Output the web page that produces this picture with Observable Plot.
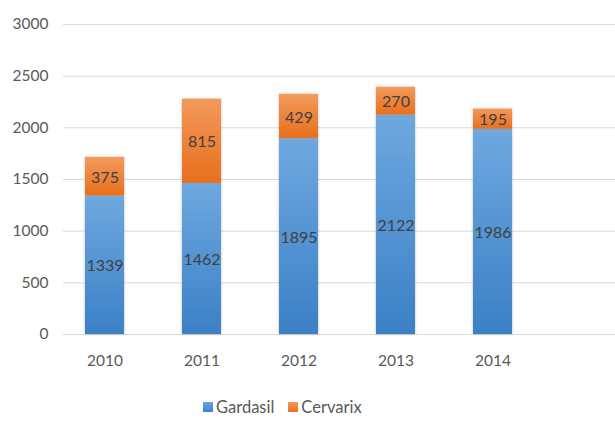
<!DOCTYPE html>
<html>
<head>
<meta charset="utf-8">
<script src="https://cdn.jsdelivr.net/npm/d3@7"></script>
<script src="https://cdn.jsdelivr.net/npm/@observablehq/plot@0.6"></script>
<style>
  body { margin: 0; background: #fff; font-family: Lato, "Open Sans", sans-serif; }
  #chart svg { display: block; }
  .legend { display: flex; align-items: center; margin-left: 203px; margin-top: 12px; font-size: 16.5px; color: #595959; }
  .legend span.sw { display: inline-block; width: 10px; height: 10px; margin-right: 3px; }
  .legend .item { display: flex; align-items: center; margin-right: 14px; }
</style>
</head>
<body>
<div id="chart"></div>
<div class="legend">
  <div class="item"><span class="sw" style="background:linear-gradient(#6aa5dd,#3d83c8)"></span>Gardasil</div>
  <div class="item"><span class="sw" style="background:linear-gradient(#f59a5e,#e8701f)"></span>Cervarix</div>
</div>
<script>
const years = ["2010", "2011", "2012", "2013", "2014"];
const series = ["Gardasil", "Cervarix"];
const gardasil = [1339, 1462, 1895, 2122, 1986];
const cervarix = [375, 815, 429, 270, 195];
const yTicks = [0, 500, 1000, 1500, 2000, 2500, 3000];

const data = [];
years.forEach((y, i) => {
  data.push({year: y, series: "Gardasil", value: gardasil[i]});
  data.push({year: y, series: "Cervarix", value: cervarix[i]});
});

const plot = Plot.plot({
  width: 615,
  height: 385,
  marginLeft: 63,
  marginRight: 0,
  marginTop: 24,
  marginBottom: 51,
  style: {fontFamily: "Lato, 'Open Sans', sans-serif", fontSize: "15px", color: "#595959", background: "#fff"},
  x: {domain: years, range: [56, 541], paddingInner: 0.6, paddingOuter: 0.3, label: null},
  y: {domain: [0, 3000], label: null},
  color: {domain: series, range: ["url(#gradBlue)", "url(#gradOrange)"]},
  marks: [
    Plot.ruleY(yTicks, {stroke: "#d9d9d9", strokeWidth: 1}),
    Plot.axisY({ticks: yTicks, tickFormat: d => String(d), tickSize: 0, tickPadding: 15, label: null, fill: "#595959", fontSize: 15.5}),
    Plot.axisX({tickSize: 0, tickPadding: 20, label: null, fill: "#595959", fontSize: 15.5}),
    Plot.barY(data, {x: "year", y: "value", fill: "series", order: series, className: "bars"}),
    Plot.text(data, Plot.stackY({x: "year", y: "value", z: "series", order: series, text: d => String(d.value), fill: "#404040", fontSize: 16, dy: 1}))
  ]
});

const svg = d3.select(plot);
const defs = svg.insert("defs", ":first-child");
const gb = defs.append("linearGradient").attr("id", "gradBlue").attr("x1", 0).attr("y1", 0).attr("x2", 0).attr("y2", 1);
gb.append("stop").attr("offset", "0%").attr("stop-color", "#6ea8df");
gb.append("stop").attr("offset", "100%").attr("stop-color", "#3b80c6");
const go = defs.append("linearGradient").attr("id", "gradOrange").attr("x1", 0).attr("y1", 0).attr("x2", 0).attr("y2", 1);
go.append("stop").attr("offset", "0%").attr("stop-color", "#f39a5c");
go.append("stop").attr("offset", "100%").attr("stop-color", "#e76f1c");
const f = defs.append("filter").attr("id", "shadow").attr("x", "-20%").attr("y", "-5%").attr("width", "140%").attr("height", "110%");
f.append("feDropShadow").attr("dx", 0).attr("dy", 0).attr("stdDeviation", 1.5).attr("flood-color", "#000").attr("flood-opacity", 0.25);
svg.select("g.bars").attr("filter", "url(#shadow)");

document.getElementById("chart").appendChild(plot);
</script>
</body>
</html>
